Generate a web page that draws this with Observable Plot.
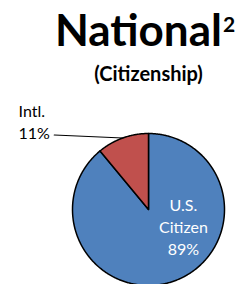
<!DOCTYPE html>
<html>
<head>
<meta charset="utf-8">
<script src="https://cdn.jsdelivr.net/npm/d3@7"></script>
<script src="https://cdn.jsdelivr.net/npm/@observablehq/plot@0.6"></script>
<style>
  html, body { margin: 0; padding: 0; background: #fff; overflow: hidden; }
  #wrap { position: relative; width: 243px; height: 284px; }
  #title { position: absolute; left: 0; width: 243px; top: 3px; text-align: center; padding-left: 47px; box-sizing: border-box;
           font-family: Lato, sans-serif; font-weight: 700; font-size: 44px; line-height: 53px; color: #000; white-space: nowrap; }
  #title sup { font-size: 21px; vertical-align: 0; position: relative; top: -14px; margin-left: 1px; }
  #subtitle { position: absolute; left: 0; width: 243px; top: 61px; text-align: center; padding-left: 54px; box-sizing: border-box;
           font-family: Lato, sans-serif; font-weight: 700; font-size: 20px; line-height: 24px; color: #000; white-space: nowrap; }
  #chart { position: absolute; left: 0; top: 90px; }
</style>
</head>
<body>
<div id="wrap">
  <div id="title">National<sup>2</sup></div>
  <div id="subtitle">(Citizenship)</div>
  <div id="chart"></div>
</div>
<script>
const categories = ["U.S. Citizen", "Intl."];
const values = [89, 11];
const colors = ["#4F81BD", "#C0504D"];
const labelLines = [["U.S.", "Citizen", "89%"], ["Intl.", "11%"]];

// build slice outlines from the values (clockwise from 12 o'clock)
const total = d3.sum(values);
const pts = [];
let cum = 0;
const mids = [];
categories.forEach((c, i) => {
  const a0 = 2 * Math.PI * cum / total;
  cum += values[i];
  const a1 = 2 * Math.PI * cum / total;
  mids.push((a0 + a1) / 2);
  pts.push({cat: c, x: 0, y: 0});
  const n = Math.max(2, Math.ceil((a1 - a0) / 0.01));
  for (let k = 0; k <= n; k++) {
    const a = a0 + (a1 - a0) * k / n;
    pts.push({cat: c, x: Math.sin(a), y: Math.cos(a)});
  }
  pts.push({cat: c, x: 0, y: 0});
});

// inside label for U.S. Citizen
const inLabel = [{x: 0.46, y: -0.22, text: labelLines[0].join("\n")}];
// outside label for Intl.
const outLabel = [{x: -1.71, y: 1.17, text: labelLines[1].join("\n")}];
const leader = [
  {x: -1.24, y: 0.98},
  {x: Math.sin(mids[1]), y: Math.cos(mids[1])}
];

const R = 76, cx = 148, cy = 119, W = 243, H = 194;
const chart = Plot.plot({
  width: W, height: H,
  margin: 0,
  x: {domain: [-cx / R, (W - cx) / R], range: [0, W], axis: null},
  y: {domain: [(cy - H) / R, cy / R], range: [H, 0], axis: null},
  color: {domain: categories, range: colors},
  marks: [
    Plot.line(pts, {x: "x", y: "y", z: "cat", fill: "cat", stroke: "#000", strokeWidth: 1.5, strokeLinejoin: "round"}),
    Plot.line(leader, {x: "x", y: "y", stroke: "#000", strokeWidth: 1.2}),
    Plot.text(inLabel, {x: "x", y: "y", text: "text", fill: "#fff", fontSize: 16, lineHeight: 1.38, fontFamily: "Lato, sans-serif", textAnchor: "middle"}),
    Plot.text(outLabel, {x: "x", y: "y", text: "text", fill: "#000", fontSize: 16, lineHeight: 1.4, fontFamily: "Lato, sans-serif", textAnchor: "start"})
  ]
});
document.getElementById("chart").appendChild(chart);
</script>
</body>
</html>
